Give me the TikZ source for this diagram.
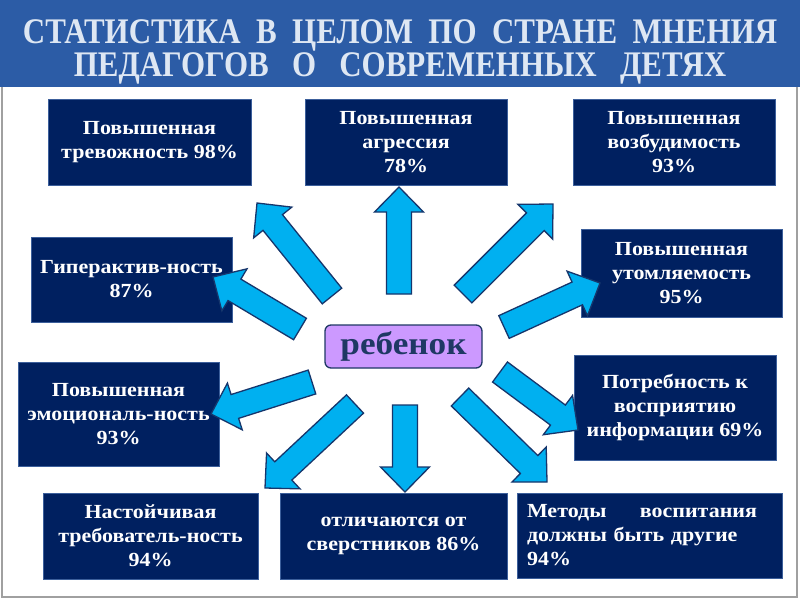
\documentclass[tikz,border=0pt]{standalone}
\usepackage{fontspec}
\setmainfont{Liberation Serif}
\newfontfamily\ttlfont{Liberation Serif}[FakeStretch=0.86]
\newfontfamily\bxfont{Liberation Serif}[FakeStretch=1.1]
\usetikzlibrary{calc}
\definecolor{hdr}{RGB}{44,92,166}
\definecolor{hdrtxt}{RGB}{222,231,243}
\definecolor{navy}{RGB}{0,32,96}
\definecolor{navyedge}{RGB}{60,95,155}
\definecolor{arrfill}{RGB}{0,176,240}
\definecolor{arredge}{RGB}{22,54,108}
\definecolor{lilac}{RGB}{204,153,255}
\definecolor{kidtxt}{RGB}{31,56,100}
\definecolor{framegray}{RGB}{160,160,160}
\tikzset{
  infobox/.style={fill=navy, draw=navyedge, line width=0.8pt, inner sep=0pt,
    text=white, font=\bxfont\bfseries\fontsize{20}{24}\selectfont, align=center},
  blockarrow/.style={fill=arrfill, draw=arredge, line width=1.3pt, line join=miter},
  titleline/.style={text=hdrtxt, anchor=base, inner sep=0pt, font=\ttlfont\bfseries\fontsize{36}{38}\selectfont},
}
\newcommand\blockarr[2]{%
  \draw[blockarrow] let \p1=(#1), \p2=(#2),
    \n1={atan2(\y2-\y1,\x2-\x1)},
    \n2={veclen(\x2-\x1,\y2-\y1)-25} in
    ($(\p1)+({\n1+90}:12.5pt)$) -- ++(\n1:{\n2*1pt})
    -- ++({\n1+90}:12pt) -- (\p2)
    -- ($(\p1)+(\n1:{\n2*1pt})+({\n1-90}:24.5pt)$)
    -- ++({\n1+90}:12pt)
    -- ($(\p1)+({\n1-90}:12.5pt)$) -- cycle;}
\begin{document}
\begin{tikzpicture}[x=1pt,y=-1pt]
\useasboundingbox (0,0) rectangle (800,600);
\fill[white] (0,0) rectangle (800,600);
% header
\fill[hdr] (0,0) rectangle (800,87);
\draw[framegray, line width=1.5pt] (2,87) -- (2,597) -- (797,597) -- (797,87);
\node[titleline] (title1) at (400,43) {СТАТИСТИКА\ \ В\ \ ЦЕЛОМ\ \ ПО\ \ СТРАНЕ\ \ МНЕНИЯ};
\node[titleline] (title2) at (400,76) {ПЕДАГОГОВ\ \ \ О\ \ \ СОВРЕМЕННЫХ\ \ \ ДЕТЯХ};
% boxes
\node[infobox, minimum width=203pt, minimum height=86pt] (b1) at (149.5,142) {Повышенная\\тревожность 98\%};
\node[infobox, minimum width=202pt, minimum height=86pt] (b2) at (406,142) {Повышенная\\агрессия\\78\%};
\node[infobox, minimum width=202pt, minimum height=86pt] (b3) at (674,142) {Повышенная\\возбудимость\\93\%};
\node[infobox, minimum width=201pt, minimum height=85pt] (b4) at (131.5,279.5) {Гиперактив-ность\\87\%};
\node[infobox, minimum width=201pt, minimum height=88pt] (b5) at (681.5,273) {Повышенная\\утомляемость\\95\%};
\node[infobox, minimum width=201pt, minimum height=104pt] (b6) at (118.5,414) {Повышенная\\эмоциональ-ность\\93\%};
\node[infobox, minimum width=202pt, minimum height=105pt] (b7) at (675,407.5) {Потребность к\\восприятию\\информации 69\%};
\node[infobox, minimum width=215pt, minimum height=86pt] (b8) at (150.5,536) {Настойчивая\\требователь-ность\\94\%};
\node[infobox, minimum width=227pt, minimum height=86pt] (b9) at (393.5,536) {отличаются от\\сверстников 86\%};
\node[infobox, align=left, text width=245pt, inner xsep=10pt, minimum width=265pt, minimum height=85pt] (b10) at (649.5,535.5)
  {\hbox to 230pt{Методы\hfill воспитания}\\должны быть другие\\94\%};
% centre
\node[fill=lilac, draw=kidtxt, line width=1.3pt, rounded corners=6pt, minimum width=157pt, minimum height=43pt,
  inner sep=0pt, text=kidtxt, font=\bxfont\bfseries\fontsize{32}{36}\selectfont] (kid) at (403.5,346.5) {ребенок};
% arrow ends
\coordinate (t1) at (332,296); \coordinate (h1) at (257,203);
\coordinate (t2) at (399,294); \coordinate (h2) at (399,187);
\coordinate (t3) at (463,294); \coordinate (h3) at (553,204);
\coordinate (t4) at (300,329); \coordinate (h4) at (213,277);
\coordinate (t5) at (504,327); \coordinate (h5) at (600,283);
\coordinate (t6) at (312,382); \coordinate (h6) at (211,414);
\coordinate (t7) at (500,372); \coordinate (h7) at (578,430);
\coordinate (t8) at (355,404); \coordinate (h8) at (265,488);
\coordinate (t9) at (405,405); \coordinate (h9) at (405,492);
\coordinate (t10) at (460,397); \coordinate (h10) at (547,482);
\blockarr{t1}{h1}
\blockarr{t2}{h2}
\blockarr{t3}{h3}
\blockarr{t4}{h4}
\blockarr{t5}{h5}
\blockarr{t6}{h6}
\blockarr{t7}{h7}
\blockarr{t8}{h8}
\blockarr{t9}{h9}
\blockarr{t10}{h10}
\end{tikzpicture}
\end{document}
